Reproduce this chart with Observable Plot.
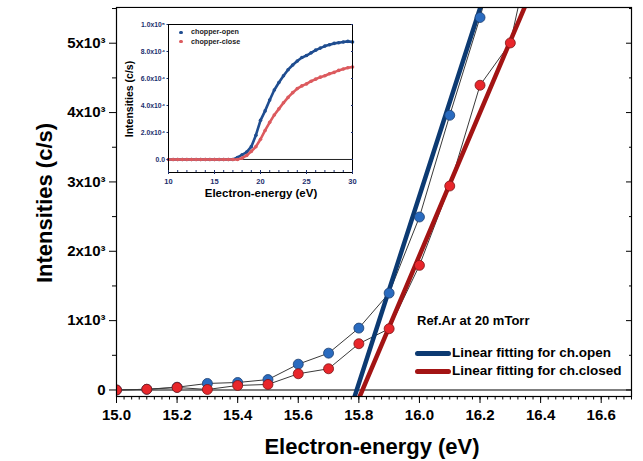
<!DOCTYPE html>
<html><head><meta charset="utf-8">
<script src="https://cdn.jsdelivr.net/npm/d3@7"></script>
<script src="https://cdn.jsdelivr.net/npm/@observablehq/plot@0.6"></script>
<style>
body{margin:0;background:#fff;}
#wrap{position:relative;width:643px;height:461px;font-family:"Liberation Sans",Arial,sans-serif;font-weight:bold;color:#000;}
.abs{position:absolute;white-space:nowrap;line-height:1;}
#wrap svg{position:absolute;}
</style></head><body><div id="wrap"></div>
<script>
// ---- main chart data (Electron-energy eV, Intensities c/s) ----
const energyOpen = [15.0,15.1,15.2,15.3,15.4,15.5,15.6,15.7,15.8,15.9,16.0,16.1,16.2,16.3];
const intensityOpen = [0,10,40,94,108,150,372,531,892,1397,2494,3961,5371,7000];
const energyClosed = [15.0,15.1,15.2,15.3,15.4,15.5,15.6,15.7,15.8,15.9,16.0,16.1,16.2,16.3,16.4];
const intensityClosed = [0,10,36,7,65,80,234,306,667,883,1797,2941,4394,5004,7000];
// linear fits: slope (c/s per eV) and zero-crossing energy
const fitNames = ["Linear fitting for ch.open","Linear fitting for ch.closed"];
const fitSlope = [13520, 10310];
const fitZero = [15.793, 15.812];
const fitRange = [15.75, 16.5];
// ticks
const xMajor = [15.0,15.2,15.4,15.6,15.8,16.0,16.2,16.4,16.6];
const yMajor = [0,1000,2000,3000,4000,5000];
const yMinor = [500,1500,2500,3500,4500,5500];

// ---- inset data ----
const insetEnergy = [10,10.5,11,11.5,12,12.5,13,13.5,14,14.5,15,15.5,16,16.5,17,17.5,18,18.5,19,19.5,20,20.5,21,21.5,22,22.5,23,23.5,24,24.5,25,25.5,26,26.5,27,27.5,28,28.5,29,29.5,30];
const insetOpen = [0,0,0,0,0,0,0,0,0,0,0,0,0,0,0,1500,3500,5500,9500,18000,29000,36000,44000,51500,57000,62000,66500,70000,73000,75500,77000,79000,81000,82500,84000,85000,86000,86500,87000,87500,87000];
const insetClose = [0,0,0,0,0,0,0,0,0,0,0,0,0,0,0,0,1000,3000,6000,9500,15000,21500,27500,33000,37500,42000,46000,49500,52500,54500,56000,58000,59500,61000,62000,63500,64500,66000,67000,68000,68500];
const insetYTicks = [0,20000,40000,60000,80000,100000];
const insetXTicks = [10,15,20,25,30];

const BLUE_DOT = "#2a6bbf", RED_DOT = "#e8262b", BLUE_FIT = "#0c3a72", RED_FIT = "#a31414";

const open = energyOpen.map((e,i)=>({e, v:intensityOpen[i]}));
const closed = energyClosed.map((e,i)=>({e, v:intensityClosed[i]}));
const fits = fitNames.map((name,k)=>fitRange.map(e=>({name, e, v: fitSlope[k]*(e - fitZero[k])})));

const font = '"Liberation Sans", Arial, sans-serif';
const main = Plot.plot({
  width: 643, height: 461,
  marginLeft: 116, marginRight: 12, marginTop: 7, marginBottom: 65,
  style: {fontFamily: font, fontWeight: "bold", fontSize: "15px", background: "transparent", color: "#000"},
  x: {domain: [15, 16.7]},
  y: {domain: [-94, 5515]},
  marks: [
    Plot.ruleY([0], {stroke: "#000", strokeWidth: 1.2}),
    Plot.line(open, {x: "e", y: "v", stroke: "#3a3a3a", strokeWidth: 1, clip: true}),
    Plot.line(closed, {x: "e", y: "v", stroke: "#3a3a3a", strokeWidth: 1, clip: true}),
    Plot.line(fits[0], {x: "e", y: "v", stroke: BLUE_FIT, strokeWidth: 4.5, clip: true}),
    Plot.line(fits[1], {x: "e", y: "v", stroke: RED_FIT, strokeWidth: 4.5, clip: true}),
    Plot.dot(open, {x: "e", y: "v", r: 5, fill: BLUE_DOT, stroke: "#1d3f70", strokeWidth: 0.8, clip: true}),
    Plot.dot(closed, {x: "e", y: "v", r: 5, fill: RED_DOT, stroke: "#7a1515", strokeWidth: 0.8, clip: true}),
    Plot.frame({stroke: "#000", strokeWidth: 1.2}),
    Plot.axisY({ticks: yMajor, tickSize: 7, tickPadding: 4, label: null,
      tickFormat: d => d === 0 ? "0" : `${d/1000}x10³`}),
    Plot.axisY({ticks: yMinor, tickSize: 4, tickFormat: () => "", label: null}),
    Plot.axisY({anchor: "right", ticks: yMajor, tickSize: 6, dx: -6, tickFormat: () => "", label: null}),
    Plot.axisY({anchor: "right", ticks: yMinor, tickSize: 3, dx: -3, tickFormat: () => "", label: null}),
    Plot.axisX({ticks: xMajor, tickSize: 7, tickPadding: 6, tickFormat: d3.format(".1f"), label: null}),
    Plot.axisX({ticks: d3.range(15, 16.701, 0.025), tickSize: 3.5, tickFormat: () => "", label: null})
  ]
});
const wrap = document.getElementById("wrap");
main.style.left = "0px"; main.style.top = "0px";
wrap.appendChild(main);

// ---- inset ----
const iOpen = insetEnergy.map((e,i)=>({e, v: insetOpen[i]}));
const iClose = insetEnergy.map((e,i)=>({e, v: insetClose[i]}));
const NAVY = "#1c2f6e";
const inset = Plot.plot({
  width: 240, height: 200,
  marginLeft: 48, marginRight: 8, marginTop: 16, marginBottom: 36,
  style: {fontFamily: font, fontWeight: "bold", fontSize: "6.8px", background: "#fff", color: NAVY},
  x: {domain: [10, 30]},
  y: {domain: [-9650, 100000]},
  marks: [
    Plot.ruleY([0], {stroke: "#222", strokeWidth: 1}),
    Plot.line(iOpen, {x: "e", y: "v", stroke: "#1f4d90", strokeWidth: 2.6}),
    Plot.dot(iOpen, {x: "e", y: "v", r: 1.8, fill: "#1f4d90"}),
    Plot.line(iClose, {x: "e", y: "v", stroke: "#dc5a5e", strokeWidth: 2.6}),
    Plot.dot(iClose, {x: "e", y: "v", r: 1.8, fill: "#dc5a5e"}),
    Plot.frame({stroke: "#000", strokeWidth: 1}),
    Plot.axisY({ticks: insetYTicks, tickSize: 1.5, tickPadding: 2, label: null,
      tickFormat: d => d === 0 ? "0.0" : (d === 100000 ? "1.0x10⁵" : `${(d/10000).toFixed(1)}x10⁴`)}),
    Plot.axisY({anchor: "right", ticks: insetYTicks, tickSize: 2, dx: -2, tickFormat: () => "", label: null}),
    Plot.axisX({ticks: insetXTicks, tickSize: 2, tickPadding: 4, label: null, fontSize: "7.5px"}),
    Plot.axisX({ticks: d3.range(10, 30.01, 1), tickSize: 2, dy: -2, tickFormat: () => "", label: null})
  ]
});
inset.style.left = "120px"; inset.style.top = "8px";
wrap.appendChild(inset);

function label(text, css) {
  const d = document.createElement("div");
  d.className = "abs";
  d.textContent = text;
  Object.assign(d.style, css);
  wrap.appendChild(d);
  return d;
}
// main titles
label("Intensities (c/s)", {left: "45px", top: "203px", fontSize: "22px", transform: "translate(-50%,-50%) rotate(-90deg)"});
label("Electron-energy (eV)", {left: "372px", top: "447px", fontSize: "22px", transform: "translate(-50%,-50%)"});
// inset titles
label("Intensities (c/s)", {left: "129px", top: "99px", fontSize: "10.5px", transform: "translate(-50%,-50%) rotate(-90deg)"});
label("Electron-energy (eV)", {left: "261px", top: "194px", fontSize: "11.5px", transform: "translate(-50%,-50%)"});
// inset legend
const insetLegend = [["chopper-open", "#1f4d90"], ["chopper-close", "#dc5a5e"]];
insetLegend.forEach(([t,c],i)=>{
  const y = 32.3 + i*9.4;
  label("", {left: "179px", top: (y-1.8)+"px", width: "3.6px", height: "3.6px", borderRadius: "50%", background: c});
  label(t, {left: "191px", top: y+"px", fontSize: "7.2px", color: "#222", transform: "translateY(-50%)"});
});
// main legend
label("Ref.Ar at 20 mTorr", {left: "417px", top: "320px", fontSize: "13px", transform: "translateY(-50%)"});
[[fitNames[0], BLUE_FIT], [fitNames[1], RED_FIT]].forEach(([t,c],i)=>{
  const y = 353.3 + i*17.7;
  label("", {left: "415px", top: (y-2.5)+"px", width: "36px", height: "5px", borderRadius: "2.5px", background: c});
  label(t, {left: "452px", top: y+"px", fontSize: "13.5px", transform: "translateY(-50%)"});
});
</script></body></html>
